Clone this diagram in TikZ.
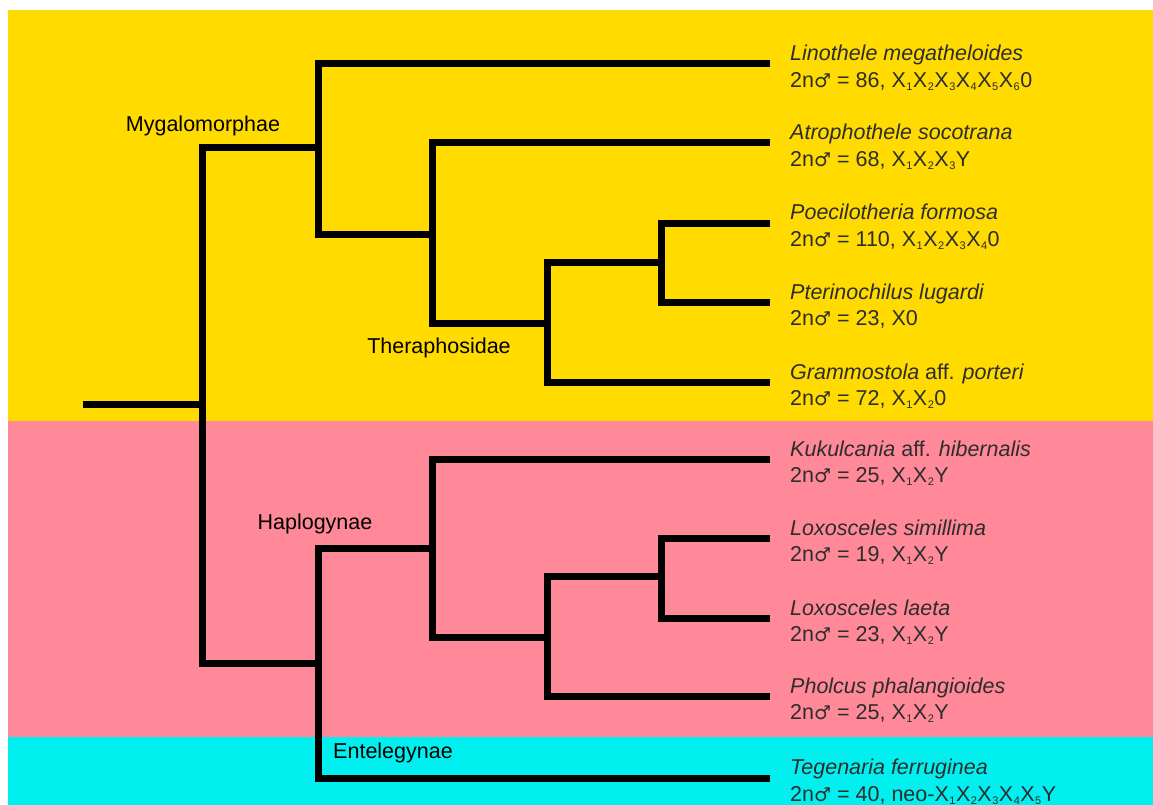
\documentclass[tikz,border=0pt]{standalone}
\usepackage{fontspec}
\setmainfont{Liberation Sans}
\newfontfamily\symbolfont{DejaVu Sans}
\usepackage{xcolor}
\definecolor{mygayellow}{RGB}{255,219,0}
\definecolor{haplopink}{RGB}{255,137,152}
\definecolor{entecyan}{RGB}{0,240,240}
\definecolor{leafgray}{RGB}{45,45,45}
\newcommand{\xs}[1]{X\kern0.5pt\raisebox{-3pt}{\fontsize{11}{11}\selectfont #1}\kern0.5pt}
\newcommand{\twon}{2n{\symbolfont\fontsize{19}{19}\selectfont ♂} = }

\begin{document}
\begin{tikzpicture}[x=1pt, y=-1pt,
    branch/.style={line width=7pt, line join=miter},
    leaf/.style={anchor=west, yshift=-4pt, inner xsep=20pt, inner ysep=0pt, align=left, text=leafgray, font=\fontsize{21.5}{26.5}\selectfont},
    clade/.style={font=\fontsize{21.5}{27}\selectfont}]
        \useasboundingbox (0,0) rectangle (1153,805);
        \fill[mygayellow] (8,10) rectangle (1153,421);
        \fill[haplopink] (8,421) rectangle (1153,737);
        \fill[entecyan] (8,737) rectangle (1153,805);

        \coordinate (stem) at (83,404);
        \coordinate (root) at (202,404);
        \coordinate (myg) at (318,148);
        \coordinate (thr) at (432,234);
        \coordinate (thr2) at (547,323);
        \coordinate (thr3) at (661,262);
        \coordinate (ara) at (318,663);
        \coordinate (hap) at (432,548);
        \coordinate (hap2) at (547,637);
        \coordinate (hap3) at (661,576);

        \node[leaf] (linothele) at (770,64) {\textit{Linothele megatheloides}\\ \twon 86, \xs1\xs2\xs3\xs4\xs5\xs{6}0};
        \node[leaf] (atrophothele) at (770,143) {\textit{Atrophothele socotrana}\\ \twon 68, \xs1\xs2\xs{3}Y};
        \node[leaf] (poecilotheria) at (770,223) {\textit{Poecilotheria formosa}\\ \twon 110, \xs1\xs2\xs3\xs{4}0};
        \node[leaf] (pterinochilus) at (770,302) {\textit{Pterinochilus lugardi}\\ \twon 23, X0};
        \node[leaf] (grammostola) at (770,382) {\textit{Grammostola} aff. \textit{porteri}\\ \twon 72, \xs1\xs{2}0};
        \node[leaf] (kukulcania) at (770,459) {\textit{Kukulcania} aff. \textit{hibernalis}\\ \twon 25, \xs1\xs{2}Y};
        \node[leaf] (simillima) at (770,538) {\textit{Loxosceles simillima}\\ \twon 19, \xs1\xs{2}Y};
        \node[leaf] (laeta) at (770,618) {\textit{Loxosceles laeta}\\ \twon 23, \xs1\xs{2}Y};
        \node[leaf] (pholcus) at (770,696) {\textit{Pholcus phalangioides}\\ \twon 25, \xs1\xs{2}Y};
        \node[leaf] (tegenaria) at (770,778) {\textit{Tegenaria ferruginea}\\ \twon 40, neo-\xs1\xs2\xs3\xs4\xs{5}Y};

        \node[clade] (mygalomorphae) at (203,126) {Mygalomorphae};
        \node[clade] (theraphosidae) at (439,348) {Theraphosidae};
        \node[clade] (haplogynae) at (315,524) {Haplogynae};
        \node[clade] (entelegynae) at (393,753) {Entelegynae};

        \draw[branch] (stem) -- (root);
        \draw[branch] (root) |- (myg);
        \draw[branch] (root) |- (ara);

        \draw[branch] (myg) |- ([yshift=4pt]linothele.west);
        \draw[branch] (myg) |- (thr);
        \draw[branch] (thr) |- ([yshift=4pt]atrophothele.west);
        \draw[branch] (thr) |- (thr2);
        \draw[branch] (thr2) |- (thr3);
        \draw[branch] (thr2) |- ([yshift=4pt]grammostola.west);
        \draw[branch] (thr3) |- ([yshift=4pt]poecilotheria.west);
        \draw[branch] (thr3) |- ([yshift=4pt]pterinochilus.west);

        \draw[branch] (ara) |- (hap);
        \draw[branch] (ara) |- ([yshift=4pt]tegenaria.west);
        \draw[branch] (hap) |- ([yshift=4pt]kukulcania.west);
        \draw[branch] (hap) |- (hap2);
        \draw[branch] (hap2) |- (hap3);
        \draw[branch] (hap2) |- ([yshift=4pt]pholcus.west);
        \draw[branch] (hap3) |- ([yshift=4pt]simillima.west);
        \draw[branch] (hap3) |- ([yshift=4pt]laeta.west);
    \end{tikzpicture}
\end{document}
